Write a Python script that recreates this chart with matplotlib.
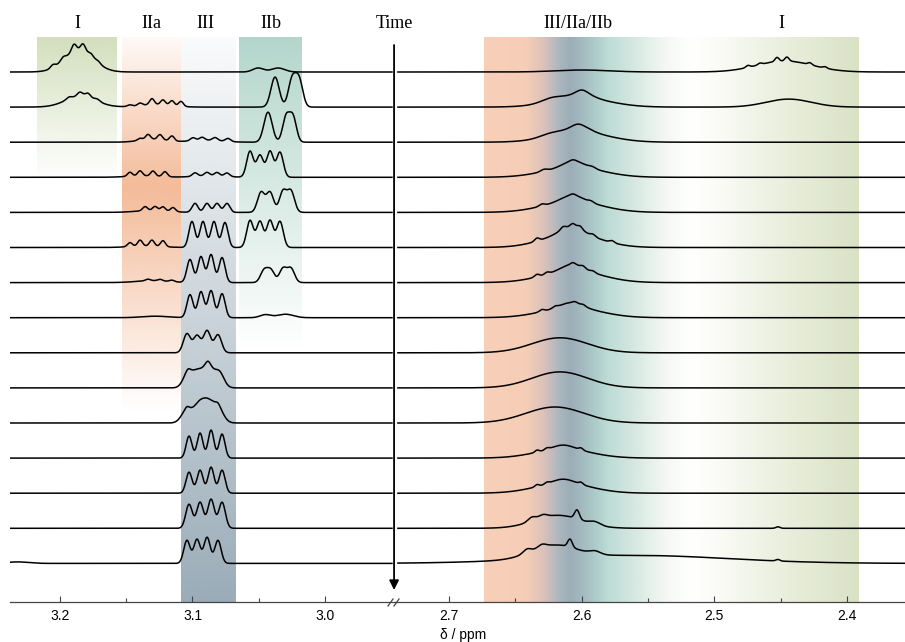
import matplotlib.pyplot as plt
import matplotlib.colors as mcolors
import numpy as np

# peaks of each spectrum, top (first) to bottom (last)
# (shift in ppm, height in px, half width sigma in ppm)
spec01 = [(3.1857, 22, 0.0110), (3.2053, 3, 0.0018), (3.1977, 3, 0.0018), (3.1894, 7, 0.0018),
          (3.1826, 7, 0.0018), (3.1766, 3, 0.0018), (3.1713, 2, 0.0018),
          (3.0505, 4, 0.0040), (3.0355, 4, 0.0050),
          (2.6000, 2, 0.0200),
          (2.4470, 11, 0.0210), (2.4747, 2, 0.0015), (2.4656, 1.5, 0.0015), (2.4528, 4, 0.0015),
          (2.4453, 4, 0.0015), (2.4280, 2, 0.0015), (2.4167, 1.5, 0.0015)]
spec02 = [(3.1842, 11, 0.0115), (3.1849, 4, 0.0020), (3.1789, 4, 0.0020), (3.1932, 2, 0.0020),
          (3.1720, 2, 0.0020),
          (3.1280, 2.5, 0.0120), (3.1472, 1.5, 0.0018), (3.1396, 2.5, 0.0018), (3.1306, 6, 0.0018),
          (3.1223, 5, 0.0018), (3.1155, 5, 0.0018), (3.1087, 5, 0.0018),
          (3.0377, 30, 0.0031), (3.0249, 27, 0.0028), (3.0196, 27, 0.0028),
          (2.6010, 9, 0.0220), (2.6000, 5, 0.0080), (2.5998, 3, 0.0040), (2.6220, 4, 0.0080),
          (2.4440, 8, 0.0170)]
spec03 = [(3.1300, 3, 0.0100), (3.1396, 2, 0.0018), (3.1336, 5, 0.0018), (3.1245, 5, 0.0018),
          (3.1155, 5, 0.0018),
          (3.0900, 2, 0.0120), (3.0996, 3, 0.0020), (3.0928, 3, 0.0020), (3.0830, 3, 0.0020),
          (3.0732, 3, 0.0020),
          (3.0430, 30, 0.0031), (3.0294, 25, 0.0026), (3.0242, 25, 0.0026),
          (2.6020, 10, 0.0220), (2.6020, 6, 0.0080), (2.6028, 2, 0.0040), (2.6230, 3, 0.0080)]
spec04 = [(3.1370, 1.5, 0.0120), (3.1472, 4, 0.0018), (3.1396, 5, 0.0018), (3.1298, 5, 0.0018),
          (3.1208, 5, 0.0018),
          (3.0870, 1.5, 0.0120), (3.0981, 3.5, 0.0020), (3.0891, 3.5, 0.0020), (3.0815, 3.5, 0.0020),
          (3.0740, 3.5, 0.0020),
          (3.0566, 26, 0.0025), (3.0491, 22, 0.0025), (3.0415, 26, 0.0025), (3.0340, 25, 0.0025),
          (2.6060, 10, 0.0220), (2.6060, 6, 0.0080), (2.6285, 2, 0.0025), (2.6066, 1.5, 0.0025),
          (2.5920, 1.5, 0.0025)]
spec05 = [(3.1300, 2, 0.0120), (3.1358, 4, 0.0018), (3.1283, 4, 0.0018), (3.1223, 4, 0.0018),
          (3.1147, 4, 0.0018),
          (3.0981, 9, 0.0022), (3.0891, 9, 0.0022), (3.0815, 9, 0.0022), (3.0740, 9, 0.0022),
          (3.0483, 20, 0.0027), (3.0415, 20, 0.0027), (3.0317, 21, 0.0027), (3.0257, 21, 0.0027),
          (2.6070, 11, 0.0220), (2.6070, 6, 0.0080), (2.6300, 2, 0.0020), (2.6066, 1.5, 0.0020),
          (2.5930, 1.5, 0.0020)]
spec06 = [(3.1350, 1.5, 0.0120), (3.1472, 4, 0.0018), (3.1396, 6, 0.0018), (3.1306, 6, 0.0018),
          (3.1223, 6, 0.0018),
          (3.1004, 26, 0.0023), (3.0921, 26, 0.0023), (3.0838, 26, 0.0023), (3.0755, 25, 0.0023),
          (3.0566, 27, 0.0025), (3.0491, 26, 0.0025), (3.0415, 27, 0.0025), (3.0340, 26, 0.0025),
          (2.6075, 14, 0.0210), (2.6075, 7, 0.0080), (2.6337, 3, 0.0018), (2.6141, 2.5, 0.0018),
          (2.6066, 3, 0.0018), (2.6013, 3, 0.0018), (2.5915, 2, 0.0018), (2.5772, 2, 0.0018)]
spec07 = [(3.1300, 2, 0.0120), (3.1336, 1.5, 0.0018), (3.1245, 1.5, 0.0018), (3.1155, 1.5, 0.0018),
          (3.1019, 23, 0.0023), (3.0936, 26, 0.0023), (3.0860, 28, 0.0023), (3.0777, 25, 0.0023),
          (3.0460, 12, 0.0027), (3.0408, 12, 0.0027), (3.0317, 14, 0.0027), (3.0257, 14, 0.0027),
          (2.6070, 12, 0.0220), (2.6070, 6, 0.0080), (2.6337, 2.5, 0.0018), (2.6262, 2, 0.0018),
          (2.6066, 2, 0.0018), (2.5990, 2, 0.0018), (2.5915, 1.5, 0.0018)]
spec08 = [(3.1280, 1.5, 0.0100),
          (3.1019, 23, 0.0023), (3.0936, 26, 0.0023), (3.0860, 27, 0.0023), (3.0777, 24, 0.0023),
          (3.0450, 3, 0.0040), (3.0300, 3.5, 0.0060),
          (2.6080, 10, 0.0220), (2.6080, 5, 0.0080), (2.6300, 2, 0.0018), (2.6200, 1.5, 0.0018),
          (2.6050, 1.5, 0.0018), (2.5990, 1.5, 0.0018)]
spec09 = [(3.1042, 19, 0.0027), (3.0966, 17, 0.0027), (3.0890, 22, 0.0027), (3.0808, 18, 0.0027),
          (2.6164, 15, 0.0210)]
spec10 = [(3.1034, 15, 0.0036), (3.0960, 15, 0.0036), (3.0883, 22, 0.0036), (3.0800, 16, 0.0036),
          (3.1034, 2, 0.0015), (3.0883, 2, 0.0015),
          (2.6164, 16, 0.0210)]
spec11 = [(3.1042, 13, 0.0040), (3.0951, 17, 0.0040), (3.0883, 18, 0.0040), (3.0808, 15, 0.0040),
          (3.1042, 2, 0.0015), (3.0808, 2, 0.0015),
          (2.6201, 16, 0.0220)]
spec12 = [(3.1026, 22, 0.0022), (3.0943, 25, 0.0022), (3.0860, 28, 0.0022), (3.0777, 24, 0.0022),
          (2.6140, 9, 0.0210), (2.6140, 4, 0.0080), (2.6337, 2, 0.0015), (2.6262, 1.5, 0.0015),
          (2.6005, 2, 0.0015)]
spec13 = [(3.1026, 21, 0.0023), (3.0943, 23, 0.0023), (3.0860, 26, 0.0023), (3.0777, 23, 0.0023),
          (2.6140, 10, 0.0210), (2.6140, 4, 0.0080), (2.6337, 2, 0.0015), (2.6262, 1.5, 0.0015),
          (2.6005, 2, 0.0015)]
spec14 = [(3.1026, 24, 0.0025), (3.0943, 26, 0.0025), (3.0860, 29, 0.0025), (3.0777, 26, 0.0025),
          (2.6180, 13, 0.0180), (2.6375, 4, 0.0030), (2.6292, 3, 0.0030), (2.6035, 9, 0.0018),
          (2.5900, 3, 0.0040), (2.4521, 1.5, 0.0015)]
spec15 = [(3.2320, 1.5, 0.0080),
          (3.1042, 23, 0.0024), (3.0966, 24, 0.0024), (3.0890, 26, 0.0024), (3.0808, 23, 0.0024),
          (2.6210, 13, 0.0170), (2.6412, 4, 0.0030), (2.6300, 3, 0.0030), (2.6088, 8, 0.0017),
          (2.5900, 3, 0.0040), (2.5600, 8, 0.0700), (2.4521, 1.5, 0.0015)]

spectra = [spec01, spec02, spec03, spec04, spec05, spec06, spec07, spec08,
           spec09, spec10, spec11, spec12, spec13, spec14, spec15]

left_ticks = [3.2, 3.1, 3.0]
left_minor = [3.15, 3.05]
right_ticks = [2.7, 2.6, 2.5, 2.4]
right_minor = [2.65, 2.55, 2.45]

left_labels = ["I", "IIa", "III", "IIb"]
left_label_ppm = [3.1872, 3.1313, 3.0906, 3.0408]
right_labels = ["III/IIa/IIb", "I"]
right_label_ppm = [2.6028, 2.4491]

W, H = 905, 642
AX_Y = 602      # axis line, pixels from top
fig = plt.figure(figsize=(W / 100, H / 100), dpi=100)


def box(x0, x1):
    return [x0 / W, (H - AX_Y) / H, (x1 - x0) / W, AX_Y / H]


ax_l = fig.add_axes(box(10, 395))
ax_r = fig.add_axes(box(395, 905))


def ypix(y):
    # pixels from the top -> data units
    return AX_Y - y


def vband(ax, x0, x1, ytop, ybot, color, stops, alphas):
    t = np.linspace(0, 1, 300)
    img = np.zeros((300, 1, 4))
    img[..., :3] = mcolors.to_rgb(color)
    img[:, 0, 3] = np.interp(t, stops, alphas)
    ax.imshow(img, extent=[x0, x1, ypix(ybot), ypix(ytop)], aspect="auto",
              interpolation="bilinear", zorder=0)


# colour bands, left part
vband(ax_l, 3.2174, 3.1577, 37, 180, "#d3dfbd", [0, 1], [1, 0])
vband(ax_l, 3.1532, 3.1087, 37, 412, "#f4bb99", [0, 0.4, 1], [0.08, 1, 0])
vband(ax_l, 3.1087, 3.0672, 37, 602, "#9aacb8", [0, 1], [0.05, 1])
vband(ax_l, 3.0649, 3.0181, 37, 350, "#b3d6cb", [0, 1], [1, 0])

# colour band, right part (horizontal gradient)
grad = mcolors.LinearSegmentedColormap.from_list("band", [
    (0.0, "#f8cfb7"), (0.11, "#f6ceb7"), (0.16, "#d9c1ba"), (0.20, "#abb6be"),
    (0.23, "#9cadb8"), (0.29, "#abc9c8"), (0.33, "#bcdcd5"), (0.40, "#d6e8e1"),
    (0.48, "#f3f7f3"), (0.55, "#ffffff"), (0.62, "#fbfcf7"), (0.75, "#eef2e4"),
    (1.0, "#dae2c5")])
ax_r.imshow(grad(np.linspace(0, 1, 600))[None, :, :],
            extent=[2.6736, 2.391, ypix(602), ypix(37)], aspect="auto",
            interpolation="bilinear", zorder=0)

xl = np.linspace(3.2377, 2.9495, 1500)
xr = np.linspace(2.7385, 2.3563, 1500)


def trace(x, peaks):
    y = np.zeros_like(x)
    for c, h, s in peaks:
        y += h * np.exp(-0.5 * ((x - c) / s) ** 2)
    return y


for i, peaks in enumerate(spectra):
    base = ypix(72 + 35.1 * i)
    ax_l.plot(xl, base + trace(xl, peaks), color="black", lw=1.1, zorder=3)
    ax_r.plot(xr, base + trace(xr, peaks), color="black", lw=1.1, zorder=3)

for ax, lim, maj, mnr in [(ax_l, (3.2377, 2.9472), left_ticks, left_minor),
                          (ax_r, (2.7407, 2.3563), right_ticks, right_minor)]:
    ax.set_xlim(*lim)
    ax.set_ylim(0, AX_Y)
    ax.patch.set_alpha(0)
    for s in ["top", "right", "left"]:
        ax.spines[s].set_visible(False)
    ax.spines["bottom"].set_color("#444444")
    ax.spines["bottom"].set_linewidth(0.9)
    ax.set_yticks([])
    ax.set_xticks(maj)
    ax.set_xticks(mnr, minor=True)
    ax.set_xticklabels([f"{v:.1f}" for v in maj])
    ax.tick_params(axis="x", which="both", direction="in", color="#444444", width=0.8)
    ax.tick_params(axis="x", which="major", length=4, labelsize=10, pad=5)
    ax.tick_params(axis="x", which="minor", length=3)
    for lab in ax.get_xticklabels():
        lab.set_family("Liberation Sans")

serif = "Liberation Serif"
for lab, p in zip(left_labels, left_label_ppm):
    ax_l.text(p, ypix(23), lab, ha="center", va="center", fontsize=13, family=serif)
for lab, p in zip(right_labels, right_label_ppm):
    ax_r.text(p, ypix(23), lab, ha="center", va="center", fontsize=13, family=serif)

# time arrow
ax_l.text(2.9479, ypix(23), "Time", ha="center", va="center", fontsize=13, family=serif,
          clip_on=False)
ax_l.annotate("", xy=(2.9479, ypix(590)), xytext=(2.9479, ypix(45)),
              arrowprops=dict(arrowstyle="-|>", color="black", lw=1.3,
                              mutation_scale=14, shrinkA=0, shrinkB=0),
              annotation_clip=False)

# axis break marks
for x0 in (388, 394):
    fig.add_artist(plt.Line2D([x0 / W, (x0 + 5) / W], [(H - 606) / H, (H - 599) / H],
                              color="#444444", lw=0.9))

fig.text(463 / W, 1 - 635 / H, "δ / ppm", ha="center", va="center", fontsize=10,
         family="Liberation Sans")

plt.savefig("out.png", dpi=100)
